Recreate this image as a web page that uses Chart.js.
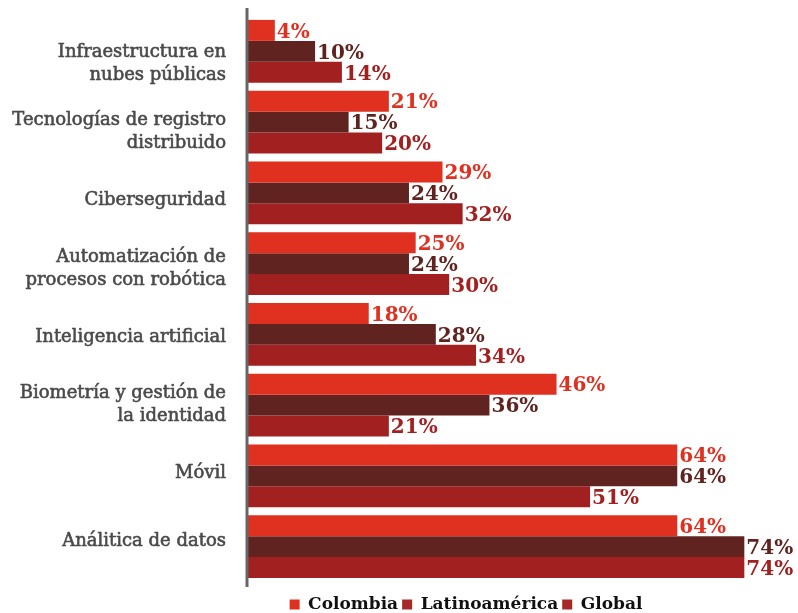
<!DOCTYPE html>
<html><head><meta charset="utf-8">
<script src="https://cdn.jsdelivr.net/npm/chart.js@4/dist/chart.umd.min.js"></script>
<style>html,body{margin:0;padding:0;background:#fff}#wrap{width:798px;height:613px}</style>
</head><body><div id="wrap"><canvas id="c" width="798" height="613"></canvas></div>
<script>
const categories = [
  ["Infraestructura en","nubes públicas"],
  ["Tecnologías de registro","distribuido"],
  "Ciberseguridad",
  ["Automatización de","procesos con robótica"],
  "Inteligencia artificial",
  ["Biometría y gestión de","la identidad"],
  "Móvil",
  "Análitica de datos"
];
const seriesNames = ["Colombia","Latinoamérica","Global"];
const colombia = [4,21,29,25,18,46,64,64];
const latam = [10,15,24,24,28,36,64,74];
const global = [14,20,32,30,34,21,51,74];

const barColors = ["#e03020","#602320","#a32020"];
const labelColors = ["#e03020","#602320","#a32020"];
const legendColors = ["#e03020","#a82828","#a82828"];
const serif = "'DejaVu Serif', serif";

const valueLabels = {
  id:'valueLabels',
  afterDatasetsDraw(chart){
    const ctx = chart.ctx;
    ctx.save();
    ctx.font = "bold 20px " + serif;
    ctx.textBaseline = 'middle';
    ctx.textAlign = 'left';
    chart.data.datasets.forEach((ds,i)=>{
      chart.getDatasetMeta(i).data.forEach((bar,j)=>{
        ctx.fillStyle = labelColors[i];
        ctx.fillText(ds.data[j] + '%', bar.x + 2, bar.y + 2);
      });
    });
    ctx.restore();
  }
};
const axisLine = {
  id:'axisLine',
  afterDatasetsDraw(chart){
    const {ctx, chartArea} = chart;
    ctx.save();
    ctx.strokeStyle = '#666';
    ctx.lineWidth = 3;
    ctx.beginPath();
    ctx.moveTo(chartArea.left - 1, chartArea.top - 8);
    ctx.lineTo(chartArea.left - 1, chartArea.bottom + 5);
    ctx.stroke();
    ctx.restore();
  }
};
const shiftLegend = {
  id:'shiftLegend',
  afterLayout(chart){
    const lg = chart.legend;
    lg.left += 67; lg.right += 67;
    lg.top += 10; lg.bottom += 10;
  }
};

new Chart(document.getElementById('c'), {
  type:'bar',
  data:{
    labels: categories,
    datasets:[
      {label:seriesNames[0], data:colombia, backgroundColor:barColors[0]},
      {label:seriesNames[1], data:latam, backgroundColor:barColors[1]},
      {label:seriesNames[2], data:global, backgroundColor:barColors[2]}
    ]
  },
  options:{
    indexAxis:'y',
    responsive:false,
    animation:false,
    layout:{padding:{top:16,right:0,left:0,bottom:0}},
    datasets:{bar:{categoryPercentage:0.89, barPercentage:1.0}},
    scales:{
      x:{display:false, min:0, max:82},
      y:{display:false},
      yl:{
        type:'linear',
        axis:'y',
        position:'left',
        reverse:true,
        offset:false,
        bounds:'data',
        min:-0.7, max:7.59,
        grid:{display:false, drawTicks:false, offset:false},
        border:{display:false},
        afterBuildTicks(s){ s.ticks = categories.map((c,i)=>({value:i})); },
        afterFit(s){ s.width = 248; s.paddingTop = 0; s.paddingBottom = 0; },
        ticks:{
          color:'#4a4a4a', padding:22, autoSkip:false,
          textStrokeColor:'#4a4a4a', textStrokeWidth:0.6,
          font:{family:serif, size:18, weight:'normal', lineHeight:1.28},
          callback:(v)=> categories[v]
        }
      }
    },
    plugins:{
      tooltip:{enabled:false},
      legend:{
        position:'bottom',
        labels:{
          color:'#111',
          boxWidth:10, boxHeight:10, padding:4,
          font:{family:serif, size:17, weight:'bold'},
          generateLabels(chart){
            return seriesNames.map((n,i)=>({text:n, fillStyle:legendColors[i], strokeStyle:legendColors[i], lineWidth:0, datasetIndex:i, fontColor:'#111'}));
          }
        }
      }
    }
  },
  plugins:[valueLabels, axisLine, shiftLegend]
});
</script></body></html>
